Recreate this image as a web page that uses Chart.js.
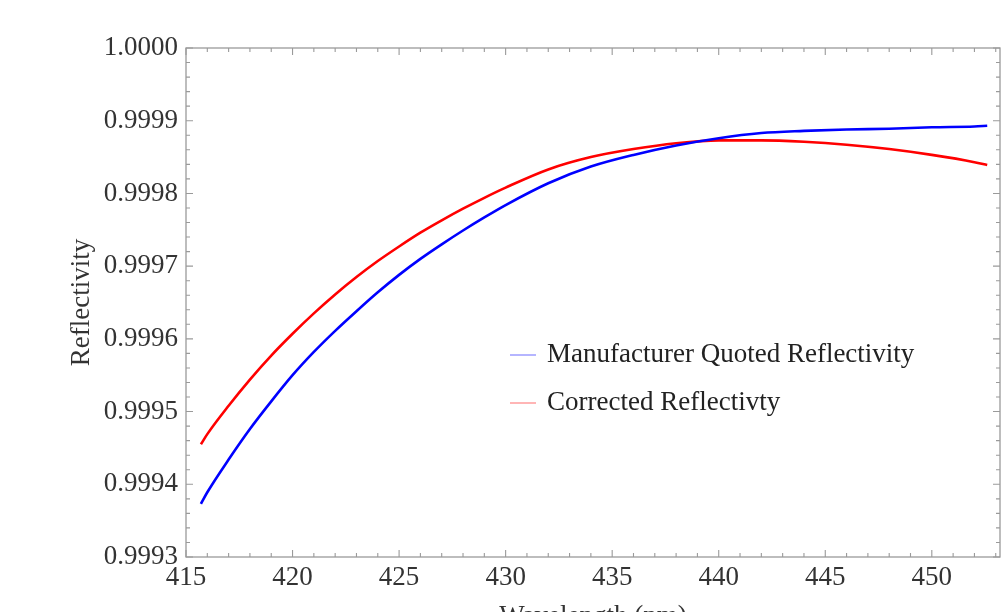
<!DOCTYPE html>
<html>
<head>
<meta charset="utf-8">
<script src="https://cdn.jsdelivr.net/npm/chart.js@4/dist/chart.umd.min.js"></script>
<style>
  html, body { margin: 0; padding: 0; background: #ffffff; }
  #wrap { position: relative; width: 1006px; height: 612px; }
</style>
</head>
<body>
<div id="wrap"><canvas id="c" width="1006" height="612"></canvas></div>
<script>
// ---- data ----
const wavelengths = [415.7, 416, 417, 418, 419, 420, 421, 422, 423, 424, 425, 426, 427, 428, 429, 430,
                     432, 434, 436, 438, 440, 442, 444, 446, 448, 450, 452, 452.6];
const manufacturerQuoted = [0.999373, 0.999389, 0.999434, 0.999476, 0.999514, 0.999550, 0.999582, 0.999611,
                            0.999638, 0.999664, 0.999688, 0.999710, 0.999730, 0.999749, 0.999767, 0.999784,
                            0.999814, 0.999837, 0.999853, 0.999866, 0.999876, 0.999883, 0.999886, 0.999888,
                            0.999889, 0.999891, 0.999892, 0.999893];
const correctedRefl = [0.999455, 0.999469, 0.999508, 0.999544, 0.999577, 0.999607, 0.999635, 0.999661,
                       0.999685, 0.999707, 0.999727, 0.999746, 0.999763, 0.999779, 0.999794, 0.999808,
                       0.999833, 0.999850, 0.999861, 0.999869, 0.999873, 0.999873, 0.999871, 0.999867,
                       0.999861, 0.999853, 0.999843, 0.999839];
const seriesNames = ['Manufacturer Quoted Reflectivity', 'Corrected Reflectivty'];
const xTickLabels = ['415', '420', '425', '430', '435', '440', '445', '450'];
const yTickLabels = ['0.9993', '0.9994', '0.9995', '0.9996', '0.9997', '0.9998', '0.9999', '1.0000'];
const xTitle = 'Wavelength (nm)';
const yTitle = 'Reflectivity';

// ---- styling ----
const SERIF = '"Liberation Serif", "Times New Roman", serif';
const FRAME = '#9a9a9a';
const TEXT = '#333333';

const toPoints = (xs, ys) => xs.map((x, i) => ({ x: x, y: ys[i] }));

// frame + inward ticks (Mathematica style) drawn from the scales
const framePlugin = {
  id: 'frameTicks',
  afterDraw(chart) {
    const { ctx, chartArea: a, scales: { x, y } } = chart;
    ctx.save();
    ctx.strokeStyle = FRAME;
    ctx.lineWidth = 1.3;
    ctx.strokeRect(a.left, a.top, a.right - a.left, a.bottom - a.top);
    ctx.lineWidth = 1.1;
    ctx.beginPath();
    for (let i = 0; i <= 40; i++) {
      const v = 415 + i;
      if (v > x.max) break;
      const px = x.getPixelForValue(v);
      const len = (v % 5 === 0) ? 7 : 4;
      ctx.moveTo(px, a.bottom); ctx.lineTo(px, a.bottom - len);
      ctx.moveTo(px, a.top); ctx.lineTo(px, a.top + len);
    }
    for (let i = 0; i <= 35; i++) {
      const v = y.min + i * 0.00002;
      const py = y.getPixelForValue(v);
      const len = (i % 5 === 0) ? 7 : 4;
      ctx.moveTo(a.left, py); ctx.lineTo(a.left + len, py);
      ctx.moveTo(a.right, py); ctx.lineTo(a.right - len, py);
    }
    ctx.stroke();
    ctx.restore();
  }
};

// legend drawn inside the plot area
const legendPlugin = {
  id: 'insideLegend',
  afterDraw(chart) {
    const { ctx } = chart;
    ctx.save();
    ctx.font = '27px ' + SERIF;
    ctx.textBaseline = 'middle';
    ctx.textAlign = 'left';
    const swatch = ['rgba(120,120,255,0.55)', 'rgba(255,120,120,0.55)'];
    chart.data.datasets.forEach((ds, i) => {
      const yy = 355 + i * 48;
      ctx.strokeStyle = swatch[i];
      ctx.lineWidth = 2;
      ctx.beginPath();
      ctx.moveTo(510, yy); ctx.lineTo(536, yy);
      ctx.stroke();
      ctx.fillStyle = '#222';
      ctx.fillText(ds.label, 547, yy);
    });
    ctx.restore();
  }
};

new Chart(document.getElementById('c'), {
  type: 'line',
  data: {
    datasets: [
      { label: seriesNames[0], data: toPoints(wavelengths, manufacturerQuoted),
        borderColor: '#0000ff', borderWidth: 2.6, pointRadius: 0,
        cubicInterpolationMode: 'monotone', fill: false },
      { label: seriesNames[1], data: toPoints(wavelengths, correctedRefl),
        borderColor: '#ff0000', borderWidth: 2.6, pointRadius: 0,
        cubicInterpolationMode: 'monotone', fill: false }
    ]
  },
  options: {
    responsive: false,
    animation: false,
    devicePixelRatio: 1,
    layout: { padding: { left: 0, right: 6, top: 48, bottom: 0 } },
    plugins: { legend: { display: false }, tooltip: { enabled: false } },
    scales: {
      x: {
        type: 'linear',
        min: 415, max: 453.2,
        afterBuildTicks: s => { s.ticks = xTickLabels.map(t => ({ value: Number(t) })); },
        afterFit: s => { s.height = 55; },
        grid: { display: false, drawTicks: false },
        border: { display: false },
        ticks: { color: TEXT, font: { family: SERIF, size: 27 }, padding: 5, maxRotation: 0,
                 callback: v => String(v) },
        title: { display: true, text: xTitle, color: TEXT, font: { family: SERIF, size: 27 },
                 padding: { top: 0, bottom: -21 } }
      },
      y: {
        type: 'linear',
        min: Number(yTickLabels[0]), max: Number(yTickLabels[yTickLabels.length - 1]),
        afterBuildTicks: s => { s.ticks = yTickLabels.map(t => ({ value: Number(t) })); },
        afterFit: s => { s.width = 186; },
        grid: { display: false, drawTicks: false },
        border: { display: false },
        ticks: { color: TEXT, font: { family: SERIF, size: 27 }, padding: 8,
                 callback: v => Number(v).toFixed(4) },
        title: { display: true, text: yTitle, color: TEXT, font: { family: SERIF, size: 27 },
                 padding: { top: 66, bottom: 0 } }
      }
    }
  },
  plugins: [framePlugin, legendPlugin]
});
</script>
</body>
</html>
